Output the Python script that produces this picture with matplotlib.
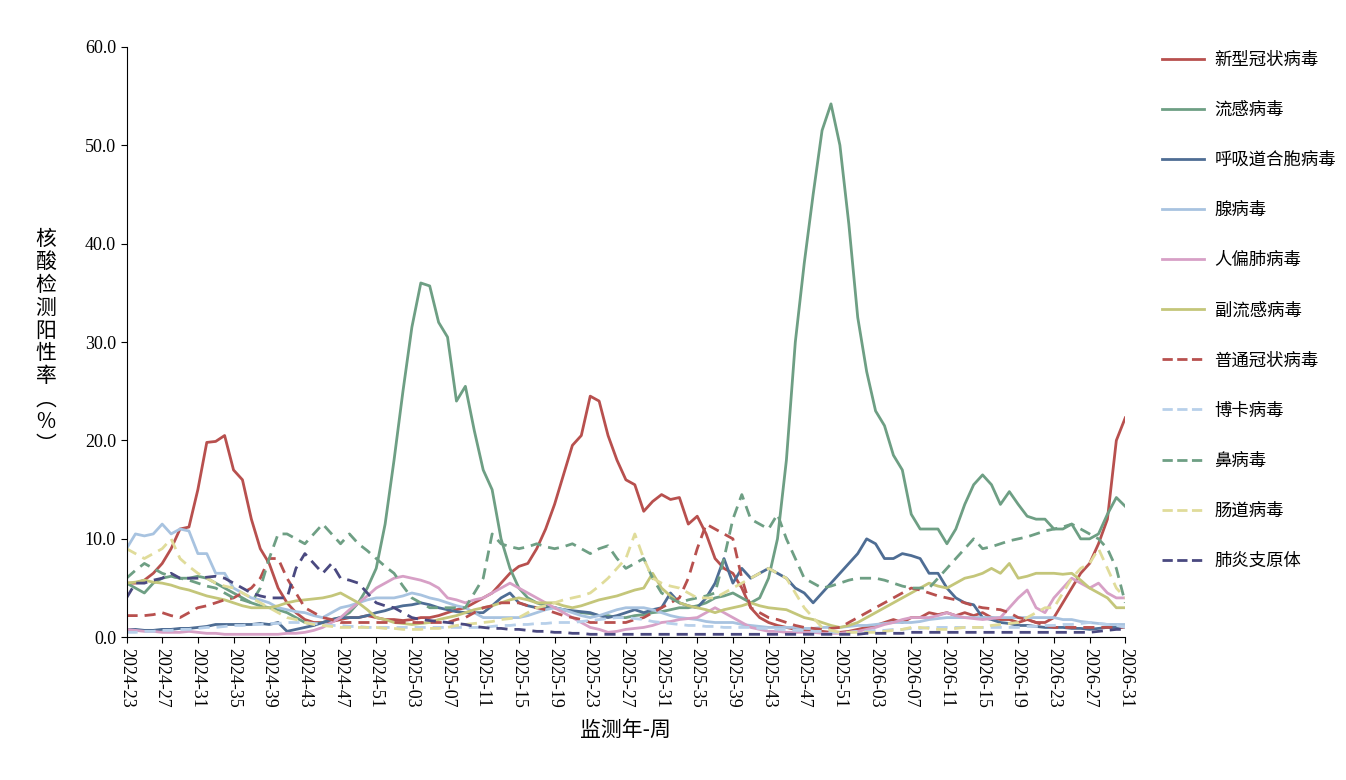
import matplotlib
matplotlib.use("Agg")
import matplotlib.pyplot as plt
from matplotlib.lines import Line2D

plt.rcParams['font.family'] = ['Noto Sans CJK SC', 'DejaVu Sans']

weeks = [f"2024-{w:02d}" for w in range(23, 53)] + \
        [f"2025-{w:02d}" for w in range(1, 53)] + \
        [f"2026-{w:02d}" for w in range(1, 32)]

covid = [5.5,5.5,5.8,6.5,7.5,9,11,11.2,15,19.8,
         19.9,20.5,17,16,12,9,7.5,5,3.5,2.5,
         1.8,1.5,1.5,1.6,1.8,2,2,2.2,2,1.8,
         1.8,1.7,1.8,2,2,2.2,2.5,2.8,3,3.5,
         4,4.5,5.5,6.5,7.2,7.5,9,11,13.5,16.5,
         19.5,20.5,24.5,24,20.5,18,16,15.5,12.8,13.8,
         14.5,14,14.2,11.5,12.3,10.5,8,7,6.5,5,
         3,2,1.5,1.2,1,0.8,0.7,0.6,0.6,0.5,
         0.5,0.6,0.8,1,1.2,1.5,1.8,1.5,2,2,
         2.5,2.3,2.5,2.2,2.5,2.2,2.5,2,1.8,1.8,
         1.5,1.8,1.5,1.5,2,3.5,5,6.5,7.5,9.5,
         12,20,22.3]
flu = [5.5,5,4.5,5.5,6,6.2,6,6,6.2,6,
       5.5,5,4.5,4,3.5,3.2,3,2.8,2.5,2,
       1.5,1.3,1.5,1.8,2,2.5,3.5,5,7,11.5,
       18,25,31.5,36,35.7,32,30.5,24,25.5,21,
       17,15,10,7,5,4,3.5,3.2,3,2.8,
       2.6,2.5,2.4,2.2,2.2,2,2,2.2,2.3,2.5,
       2.6,2.8,3,3,3.2,3.5,4,4.2,4.5,4,
       3.5,4,6,10,18,30,38,45,51.5,54.2,
       50,42,32.5,27,23,21.5,18.5,17,12.5,11,
       11,11,9.5,11,13.5,15.5,16.5,15.5,13.5,14.8,
       13.5,12.3,12,12,11,11,11.5,10,10,10.5,
       12.5,14.2,13.3]
rsv = [0.8,0.8,0.7,0.7,0.8,0.8,0.9,0.9,1.0,1.1,
       1.3,1.3,1.3,1.3,1.3,1.4,1.3,1.5,0.6,0.8,
       1.0,1.2,1.5,1.8,2.0,2.0,2.0,2.2,2.5,2.7,
       3.0,3.2,3.3,3.5,3.3,3.0,2.8,2.6,2.5,2.5,
       2.5,3.2,4.0,4.5,3.5,3.2,3.0,3.0,3.0,2.8,
       2.7,2.6,2.5,2.2,2.0,2.2,2.5,2.8,2.5,2.8,
       3.0,4.5,3.5,3.2,3.0,4.0,5.5,8.0,5.5,7.0,
       6.0,6.5,7.0,6.5,6.0,5.0,4.5,3.5,4.5,5.5,
       6.5,7.5,8.5,10.0,9.5,8.0,8.0,8.5,8.3,8.0,
       6.5,6.5,5.0,4.0,3.5,3.3,2.0,1.8,1.5,1.4,
       1.2,1.2,1.1,1.0,1.0,1.0,0.9,0.9,0.8,0.9,
       1.0,1.0,1.0]
adeno = [9.0,10.5,10.3,10.5,11.5,10.5,11.0,10.8,8.5,8.5,
         6.5,6.5,5.0,4.5,4.0,3.8,3.5,3.0,2.8,2.6,
         2.5,2.2,2.0,2.5,3.0,3.2,3.5,3.8,4.0,4.0,
         4.0,4.2,4.5,4.3,4.0,3.8,3.5,3.2,3.0,2.5,
         2.0,2.0,2.0,2.0,2.0,2.2,2.5,2.8,3.0,2.8,
         2.5,2.2,2.0,2.2,2.5,2.8,3.0,3.0,3.0,2.8,
         2.5,2.2,2.0,1.9,1.8,1.6,1.5,1.5,1.5,1.3,
         1.2,1.1,1.0,1.0,1.0,1.0,0.9,0.9,1.0,1.0,
         1.0,1.1,1.2,1.2,1.3,1.4,1.5,1.5,1.5,1.6,
         1.8,1.9,2.0,2.0,2.0,2.0,2.0,2.0,2.0,2.0,
         2.0,2.0,2.0,2.0,2.0,1.8,1.8,1.6,1.5,1.4,
         1.3,1.3,1.3]
hmpv = [0.8,0.7,0.6,0.6,0.5,0.5,0.5,0.6,0.5,0.4,
        0.4,0.3,0.3,0.3,0.3,0.3,0.3,0.3,0.4,0.4,
        0.5,0.7,1.0,1.5,2.0,2.8,3.5,4.2,5.0,5.5,
        6.0,6.2,6.0,5.8,5.5,5.0,4.0,3.8,3.5,3.8,
        4.0,4.5,5.0,5.5,5.0,4.5,4.0,3.5,3.0,2.5,
        2.0,1.5,1.0,0.8,0.5,0.6,0.8,0.9,1.0,1.2,
        1.5,1.6,1.8,1.9,2.0,2.5,3.0,2.5,2.0,1.5,
        1.0,0.8,0.6,0.6,0.5,0.5,0.5,0.5,0.4,0.4,
        0.4,0.5,0.6,0.8,1.0,1.3,1.5,1.8,2.0,2.0,
        2.0,2.2,2.5,2.2,2.0,1.9,1.8,1.9,2.0,3.0,
        4.0,4.8,3.0,2.5,4.0,5.0,6.0,5.5,5.0,5.5,
        4.5,4.0,4.0]
paraflu = [5.5,5.6,5.8,5.6,5.5,5.3,5.0,4.8,4.5,4.2,
           4.0,3.8,3.5,3.2,3.0,3.0,3.0,3.2,3.5,3.7,
           3.8,3.9,4.0,4.2,4.5,4.0,3.5,2.8,2.0,1.8,
           1.5,1.4,1.3,1.4,1.5,1.8,2.0,2.2,2.5,2.8,
           3.0,3.2,3.5,3.8,4.0,3.8,3.5,3.5,3.5,3.2,
           3.0,3.2,3.5,3.8,4.0,4.2,4.5,4.8,5.0,6.5,
           5.0,4.2,3.5,3.2,3.0,2.8,2.5,2.8,3.0,3.2,
           3.5,3.2,3.0,2.9,2.8,2.4,2.0,1.8,1.5,1.2,
           1.0,1.2,1.5,2.0,2.5,3.0,3.5,4.0,4.5,5.0,
           5.5,5.2,5.0,5.5,6.0,6.2,6.5,7.0,6.5,7.5,
           6.0,6.2,6.5,6.5,6.5,6.4,6.5,5.8,5.0,4.5,
           4.0,3.0,3.0]
hcov = [2.2,2.2,2.2,2.3,2.5,2.2,2.0,2.5,3.0,3.2,
        3.5,3.8,4.0,4.5,5.0,6.0,8.0,8.0,6.0,4.5,
        3.0,2.5,2.0,1.8,1.5,1.5,1.5,1.5,1.5,1.5,
        1.5,1.5,1.5,1.5,1.5,1.5,1.5,1.8,2.0,2.5,
        3.0,3.2,3.5,3.5,3.5,3.2,3.0,2.8,2.5,2.2,
        2.0,1.8,1.5,1.5,1.5,1.5,1.5,1.8,2.0,2.5,
        3.0,3.5,4.0,6.0,9.0,11.5,11.0,10.5,10.0,6.0,
        3.0,2.5,2.0,1.8,1.5,1.2,1.0,0.9,0.8,0.9,
        1.0,1.5,2.0,2.5,3.0,3.5,4.0,4.5,5.0,4.8,
        4.5,4.2,4.0,3.8,3.5,3.2,3.0,2.9,2.8,2.5,
        2.0,1.8,1.5,1.2,1.0,1.0,1.0,1.0,1.0,1.0,
        1.0,1.0,1.0]
boca = [0.5,0.5,0.6,0.6,0.7,0.7,0.8,0.8,0.9,1.0,
        1.0,1.1,1.2,1.2,1.3,1.3,1.4,1.4,1.5,1.5,
        1.5,1.4,1.3,1.2,1.2,1.1,1.1,1.0,1.0,1.0,
        1.0,1.0,1.0,1.0,1.0,1.0,1.0,1.0,1.0,1.0,
        1.0,1.1,1.2,1.2,1.3,1.3,1.4,1.4,1.5,1.5,
        1.5,1.6,1.7,1.8,1.9,2.0,2.0,1.9,1.8,1.6,
        1.5,1.4,1.3,1.2,1.2,1.1,1.1,1.0,1.0,1.0,
        1.0,0.9,0.9,0.8,0.8,0.7,0.7,0.6,0.6,0.5,
        0.5,0.5,0.6,0.6,0.7,0.7,0.8,0.8,0.9,0.9,
        1.0,1.0,1.0,1.0,1.0,1.0,1.0,1.0,1.0,1.0,
        1.0,1.1,1.1,1.2,1.2,1.3,1.3,1.4,1.5,1.4,
        1.3,1.2,1.0]
rhino = [6.0,6.8,7.5,7.0,6.5,6.2,6.0,5.8,5.5,5.2,
         5.0,4.5,4.0,3.8,3.5,5.0,8.0,10.5,10.5,10.0,
         9.5,10.5,11.5,10.5,9.5,10.5,9.5,8.8,8.0,7.2,
         6.5,5.2,4.0,3.5,3.0,3.0,3.0,3.0,3.0,4.5,
         6.0,10.5,9.5,9.2,9.0,9.2,9.5,9.2,9.0,9.2,
         9.5,9.0,8.5,9.0,9.3,8.0,7.0,7.5,8.0,6.0,
         4.5,4.0,3.5,3.8,4.0,4.2,4.5,8.0,12.0,14.5,
         12.0,11.5,11.0,12.5,10.0,8.0,6.0,5.5,5.0,5.2,
         5.5,5.8,6.0,6.0,6.0,5.8,5.5,5.2,5.0,5.0,
         5.0,6.0,7.0,8.0,9.0,10.0,9.0,9.2,9.5,9.8,
         10.0,10.2,10.5,10.8,11.0,11.2,11.5,11.0,10.5,10.0,
         9.0,7.0,3.5]
entero = [9.0,8.5,8.0,8.5,9.0,10.0,8.0,7.2,6.5,6.0,
          5.5,5.2,5.0,4.5,4.0,3.5,3.0,2.5,2.0,1.8,
          1.5,1.3,1.2,1.1,1.0,1.0,1.0,1.0,1.0,0.9,
          0.9,0.8,0.8,0.8,0.9,0.9,1.0,1.2,1.3,1.4,
          1.5,1.6,1.8,1.9,2.0,2.5,3.0,3.2,3.5,3.8,
          4.0,4.2,4.5,5.2,6.0,7.0,8.0,10.5,8.0,6.0,
          5.5,5.2,5.0,4.5,4.0,4.0,4.0,4.5,5.0,5.5,
          6.0,6.5,7.0,6.5,6.0,4.5,3.0,2.0,1.0,0.7,
          0.5,0.5,0.5,0.5,0.5,0.6,0.7,0.8,1.0,1.0,
          0.9,0.8,0.8,0.9,1.0,1.0,1.0,1.2,1.3,1.4,
          1.5,2.0,2.5,3.0,3.0,4.5,6.0,7.0,7.5,9.0,
          7.0,5.0,4.0]
myco = [4.0,5.5,5.5,5.8,6.0,6.5,6.0,6.0,6.0,6.1,
        6.2,6.0,5.5,5.0,4.5,4.2,4.0,4.0,4.0,7.0,
        8.5,7.5,6.5,7.5,6.0,5.8,5.5,4.5,3.5,3.2,
        3.0,2.5,2.0,1.8,1.7,1.6,1.5,1.4,1.3,1.1,
        1.0,0.9,0.9,0.8,0.8,0.7,0.6,0.6,0.5,0.5,
        0.4,0.4,0.3,0.3,0.3,0.3,0.3,0.3,0.3,0.3,
        0.3,0.3,0.3,0.3,0.3,0.3,0.3,0.3,0.3,0.3,
        0.3,0.3,0.3,0.3,0.3,0.3,0.3,0.3,0.3,0.3,
        0.3,0.3,0.3,0.4,0.4,0.4,0.4,0.4,0.5,0.5,
        0.5,0.5,0.5,0.5,0.5,0.5,0.5,0.5,0.5,0.5,
        0.5,0.5,0.5,0.5,0.5,0.5,0.5,0.5,0.5,0.6,
        0.7,0.8,0.8]

series = [
    ("新型冠状病毒", covid, "#b8504e", "-"),
    ("流感病毒", flu, "#6e9f84", "-"),
    ("呼吸道合胞病毒", rsv, "#4e6d94", "-"),
    ("腺病毒", adeno, "#a8c3e0", "-"),
    ("人偏肺病毒", hmpv, "#d7a0c6", "-"),
    ("副流感病毒", paraflu, "#c4c67a", "-"),
    ("普通冠状病毒", hcov, "#b8504e", "--"),
    ("博卡病毒", boca, "#b8d0ea", "--"),
    ("鼻病毒", rhino, "#6e9f84", "--"),
    ("肠道病毒", entero, "#e0dc9a", "--"),
    ("肺炎支原体", myco, "#4a4980", "--"),
]

fig = plt.figure(figsize=(13.46, 7.8), dpi=100)
ax = fig.add_axes([0.094, 0.183, 0.742, 0.757])
x = list(range(len(weeks)))
handles = []
for name, vals, col, ls in series:
    if ls == "--":
        ax.plot(x, vals, color=col, lw=2.0, dashes=(4, 2.5))
    else:
        ax.plot(x, vals, color=col, lw=2.0)
    handles.append(Line2D([0], [0], color=col, lw=2.0, ls=ls, label=name))

ax.set_xlim(0, len(weeks) - 1)
ax.set_ylim(0, 60)
ax.set_yticks(range(0, 61, 10))
ax.set_yticklabels([f"{v:.1f}" for v in range(0, 61, 10)], fontsize=13,
                   family=['Liberation Serif'])
ax.set_xticks(x[::4])
ax.set_xticklabels(weeks[::4], rotation=-90, fontsize=13, family=['Liberation Serif'])
ax.spines["top"].set_visible(False)
ax.spines["right"].set_visible(False)
ax.tick_params(direction="out", length=4)
ax.set_xlabel("监测年-周", fontsize=15, labelpad=8)
ax.set_ylabel("\n".join("核酸检测阳性率︵%︶"), fontsize=15, rotation=0,
              labelpad=28, va="center", linespacing=1.05)

fig.legend(handles=handles, loc="upper left", bbox_to_anchor=(0.852, 0.955),
           frameon=False, fontsize=12.5, handlelength=2.4, handletextpad=0.6,
           labelspacing=1.85)

fig.savefig("out.png")
